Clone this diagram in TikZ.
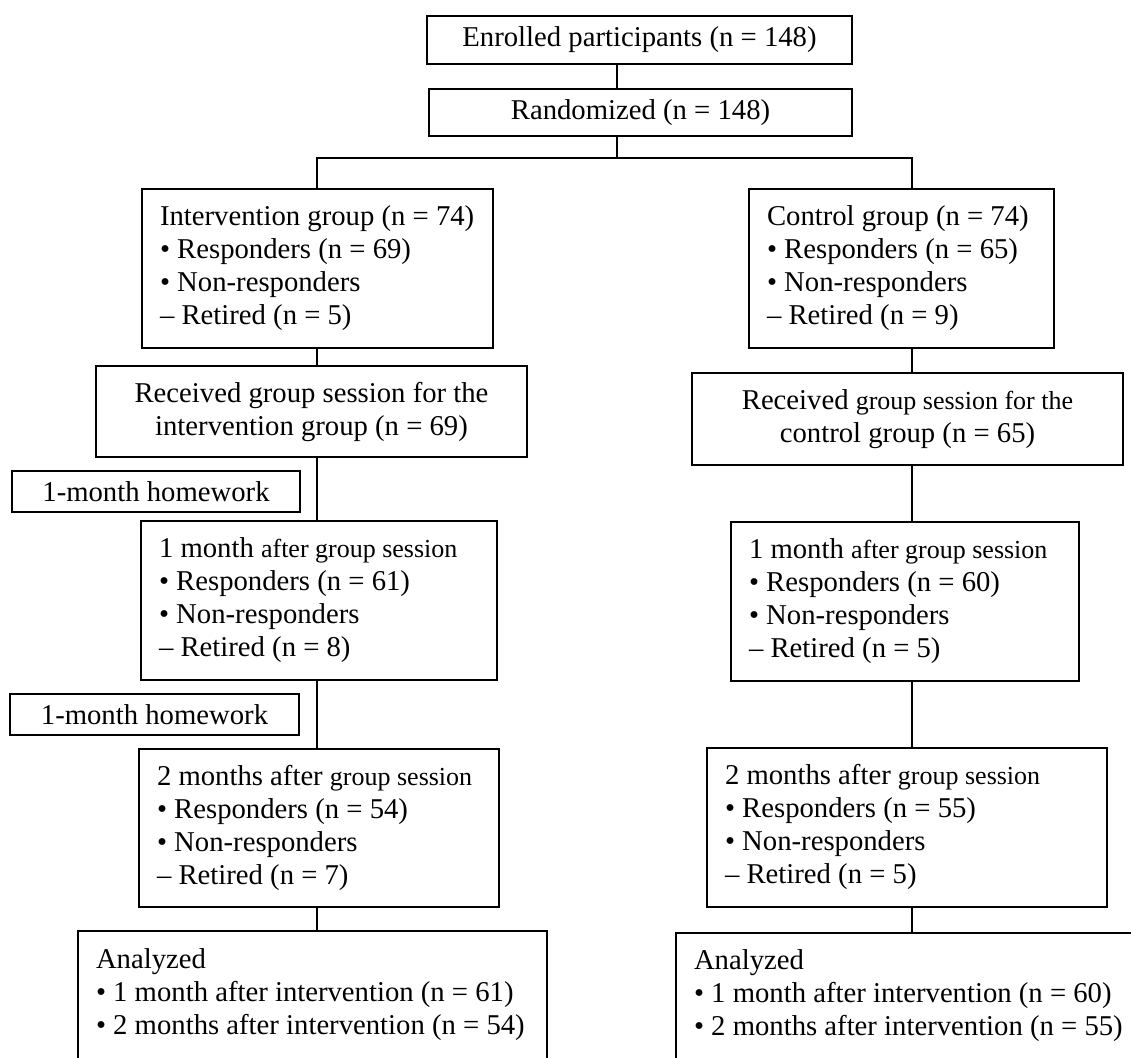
\documentclass[tikz,border=0pt]{standalone}
\usepackage{fontspec}
\setmainfont{Liberation Serif}
\newcommand{\bodyfont}{\fontsize{28.7}{33}\selectfont}
\newcommand{\sm}[1]{{\fontsize{26}{33}\selectfont #1}}
\newcommand{\boxlines}[1]{\begin{tabular}{@{}l@{}}#1\end{tabular}}

\begin{document}
\begin{tikzpicture}[x=1pt, y=-1pt,
  box/.style={draw, line width=2pt, inner sep=0pt, font=\bodyfont, align=center},
  listbox/.style={box, align=flush left, inner xsep=18pt},
  link/.style={line width=1.5pt}]
  \useasboundingbox (0,0) rectangle (1131,1057);

  % top of the chart
  \node[box, minimum width=425, minimum height=48] (enroll) at (639.5,40) {Enrolled participants (n = 148)};
  \node[box, minimum width=423, minimum height=47] (rand) at (640.5,112.5) {Randomized (n = 148)};

  % intervention arm
  \node[listbox, text width=315, minimum height=159] (intv) at (317.5,268.5)
    {\boxlines{Intervention group (n = 74)\\• Responders (n = 69)\\• Non-responders\\– Retired (n = 5)}};
  \node[box, minimum width=431, minimum height=91] (recvL) at (311.5,411.5)
    {Received group session for the\\intervention group (n = 69)};
  \node[box, minimum width=288, minimum height=41] (hw1) at (156,491.5) {1-month homework};
  \node[listbox, text width=320, minimum height=159] (m1L) at (319,600.5)
    {\boxlines{1 month \sm{after group session}\\• Responders (n = 61)\\• Non-responders\\– Retired (n = 8)}};
  \node[box, minimum width=289, minimum height=41] (hw2) at (154.5,714.5) {1-month homework};
  \node[listbox, text width=324, minimum height=158] (m2L) at (319,828)
    {\boxlines{2 months after \sm{group session}\\• Responders (n = 54)\\• Non-responders\\– Retired (n = 7)}};
  \node[listbox, text width=433, minimum height=128] (anL) at (312.5,995)
    {\boxlines{Analyzed\\• 1 month after intervention (n = 61)\\• 2 months after intervention (n = 54)}};

  % control arm
  \node[listbox, text width=269, minimum height=159] (ctrl) at (901.5,268.5)
    {\boxlines{Control group (n = 74)\\• Responders (n = 65)\\• Non-responders\\– Retired (n = 9)}};
  \node[box, minimum width=431, minimum height=92] (recvR) at (907.5,419)
    {Received \sm{group session for the}\\control group (n = 65)};
  \node[listbox, text width=312, minimum height=159] (m1R) at (905,601.5)
    {\boxlines{1 month \sm{after group session}\\• Responders (n = 60)\\• Non-responders\\– Retired (n = 5)}};
  \node[listbox, text width=364, minimum height=159] (m2R) at (907,827.5)
    {\boxlines{2 months after \sm{group session}\\• Responders (n = 55)\\• Non-responders\\– Retired (n = 5)}};
  \node[listbox, text width=438, minimum height=126] (anR) at (913,996)
    {\boxlines{Analyzed\\• 1 month after intervention (n = 60)\\• 2 months after intervention (n = 55)}};

  \coordinate (split) at (617,158);
  \coordinate (jl) at (317,158);
  \coordinate (jr) at (912,158);

  \draw[link] (enroll.south -| split) -- (rand.north -| split);
  \draw[link] (rand.south -| split) -- (split);
  \draw[link] (intv.north -| jl) -- (jl) -- (jr) -- (ctrl.north -| jr);
  \draw[link] (intv.south -| jl) -- (recvL.north -| jl);
  \draw[link] (recvL.south -| jl) -- (m1L.north -| jl);
  \draw[link] (m1L.south -| jl) -- (m2L.north -| jl);
  \draw[link] (m2L.south -| jl) -- (anL.north -| jl);
  \draw[link] (ctrl.south -| jr) -- (recvR.north -| jr);
  \draw[link] (recvR.south -| jr) -- (m1R.north -| jr);
  \draw[link] (m1R.south -| jr) -- (m2R.north -| jr);
  \draw[link] (m2R.south -| jr) -- (anR.north -| jr);
\end{tikzpicture}
\end{document}
